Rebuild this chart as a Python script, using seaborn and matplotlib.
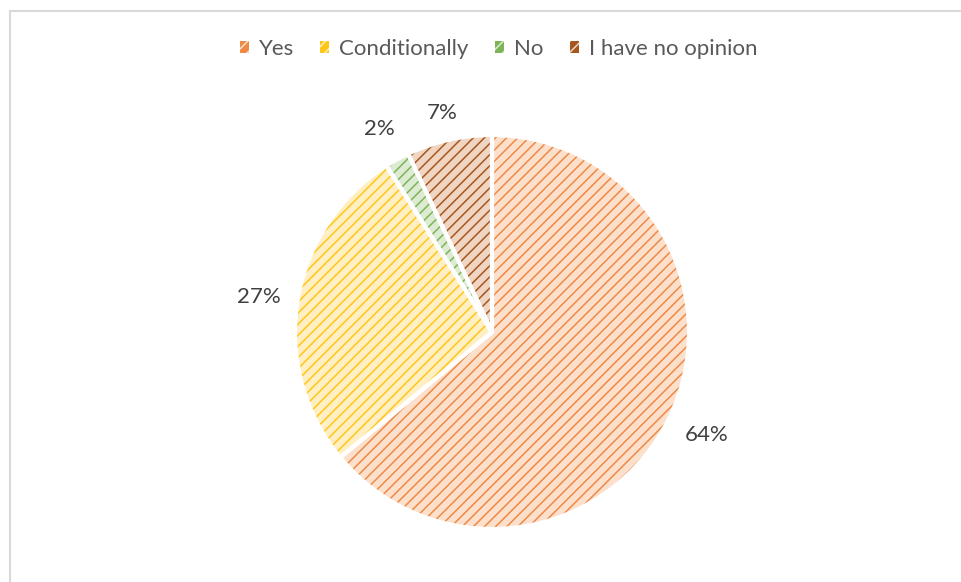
import matplotlib
matplotlib.use("Agg")
import matplotlib.pyplot as plt
import seaborn as sns
import numpy as np
from matplotlib.patches import Patch, Rectangle

categories = ["Yes", "Conditionally", "No", "I have no opinion"]
shares = [64, 27, 2, 7]
pct_labels = ["64%", "27%", "2%", "7%"]

stripe_colors = ["#EE8A45", "#FFC61A", "#7DB458", "#A6561F"]
fill_colors = ["#FCE0CC", "#FFEFC2", "#DCEBD1", "#EFD5C2"]
label_dist = [1.205, 1.20, 1.185, 1.15]

sns.set_theme(style="white")
plt.rcParams["font.family"] = ["Lato", "DejaVu Sans"]
plt.rcParams["hatch.linewidth"] = 1.1

fig = plt.figure(figsize=(9.62, 5.82), dpi=100)
fig.patch.set_facecolor("white")

# thin grey frame around the chart area
fig.add_artist(Rectangle((10 / 962, -0.05), 1.1, 1 - 11 / 582 + 0.05,
                         transform=fig.transFigure, fill=False,
                         edgecolor="#D9D9D9", linewidth=1.5))

R = 197
cx, cy = 492, 332
ax = fig.add_axes([(cx - R) / 962, 1 - (cy + R) / 582, 2 * R / 962, 2 * R / 582])

wedges, _ = ax.pie(shares, startangle=90, counterclock=False, radius=1,
                   colors=fill_colors,
                   wedgeprops=dict(linewidth=0))
for w, sc in zip(wedges, stripe_colors):
    w.set_hatch("///")
    w.set_edgecolor(sc)
    w.set_linewidth(0)

# white separators between slices
ax.pie(shares, startangle=90, counterclock=False, radius=1,
       wedgeprops=dict(fill=False, edgecolor="white", linewidth=3))

for w, txt, d in zip(wedges, pct_labels, label_dist):
    mid = np.deg2rad((w.theta1 + w.theta2) / 2)
    ax.text(d * np.cos(mid), d * np.sin(mid), txt, ha="center",
            va="center_baseline", fontsize=16, color="#404040")

ax.set_xlim(-1, 1)
ax.set_ylim(-1, 1)
ax.set_aspect("equal")
ax.axis("off")

handles = [Patch(facecolor=sc, edgecolor=fc, hatch="///", linewidth=0)
           for fc, sc in zip(fill_colors, stripe_colors)]
fig.legend(handles, categories, loc="center", bbox_to_anchor=(498.5 / 962, 1 - 49 / 582),
           ncol=4, frameon=False, fontsize=16, labelcolor="#595959",
           handlelength=0.42, handleheight=0.42, handletextpad=0.45,
           columnspacing=1.17)

fig.savefig("out.png", dpi=100, facecolor="white")
